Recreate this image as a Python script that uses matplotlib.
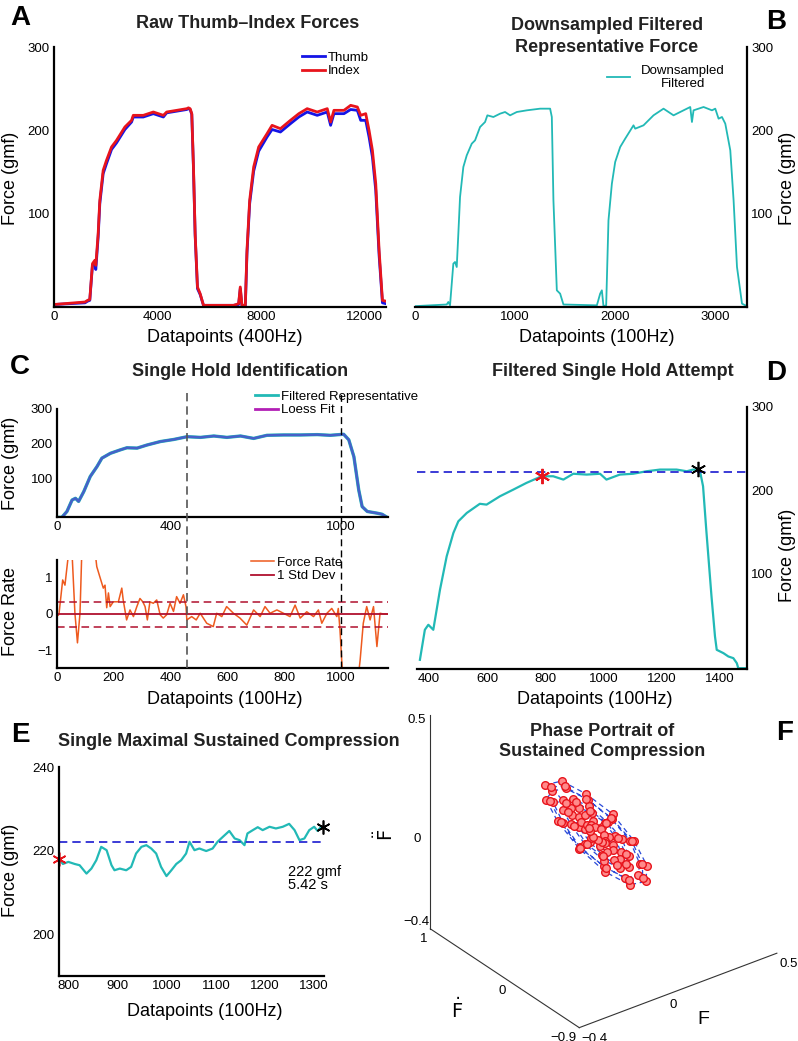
import matplotlib
matplotlib.use("Agg")
import matplotlib.pyplot as plt
from matplotlib.lines import Line2D

plt.rcParams['font.family'] = ['Liberation Sans', 'DejaVu Sans']
plt.rcParams['font.size'] = 9

W, H = 798, 1041

# ---- Panel A: raw thumb/index forces (400 Hz) ----
a_x = [0, 1200, 1300, 1385, 1489, 1579, 1618, 1709, 1773, 1903, 2032, 2227, 2421, 2744, 3003, 3068,
       3456, 3845, 4233, 4362, 4751, 5139, 5204, 5269, 5333, 5398, 5463, 5553, 5657, 5786, 6951, 7146,
       7210, 7275, 7405, 7469, 7573, 7728, 7922, 8246, 8440, 8764, 9152, 9476, 9799, 10188, 10576,
       10706, 10835, 11223, 11482, 11741, 11871, 12065, 12194, 12324, 12453, 12583, 12712, 12841]
a_index = [-9, -6, -4, -3, 40, 44, 38, 76, 116, 152, 164, 180, 188, 204, 212, 218,
           218, 222, 218, 222, 224, 226, 227, 226, 220, 156, 76, 12, 4, -10, -10, -8,
           12, -10, -10, 56, 116, 156, 180, 196, 206, 202, 212, 220, 226, 222, 226,
           210, 224, 224, 230, 228, 218, 220, 200, 176, 136, 56, -4, -5]
a_thumb = [-9, -7, -5, -4, 38, 40, 33, 72, 112, 148, 160, 177, 185, 201, 210, 216,
           216, 220, 216, 221, 223, 225, 226, 225, 219, 154, 74, 10, 3, -10, -10, -9,
           10, -11, -11, 52, 112, 151, 175, 192, 201, 198, 208, 216, 222, 218, 222,
           206, 220, 220, 225, 224, 212, 212, 192, 168, 128, 50, -7, -8]

# ---- Panel B: downsampled filtered force (100 Hz) ----
b_x = [0, 317, 333, 350, 383, 400, 417, 433, 450, 483, 517, 567, 600, 650, 700, 723, 783, 850, 900,
       950, 1017, 1117, 1250, 1350, 1367, 1383, 1417, 1450, 1483, 1817, 1850, 1867, 1883, 1910,
       1933, 1967, 2000, 2050, 2100, 2183, 2200, 2283, 2383, 2483, 2583, 2683, 2750, 2767, 2783,
       2883, 2967, 3000, 3033, 3067, 3100, 3150, 3183, 3217, 3267, 3300]
b_force = [-11, -9, -6, -10, 40, 42, 36, 76, 120, 156, 170, 184, 188, 204, 210, 218, 216, 220, 222,
           218, 222, 224, 226, 226, 216, 116, 8, 4, -9, -10, 4, 8, -11, -10,
           92, 136, 162, 180, 190, 206, 202, 206, 218, 226, 218, 224, 228, 210, 224,
           228, 224, 226, 214, 216, 208, 176, 116, 36, -8, -10]

# ---- Panel C: single hold identification ----
c_x = [0, 17, 35, 53, 65, 76, 94, 117, 141, 158, 188, 223, 246, 282, 317, 364, 411, 458, 505, 552,
       598, 646, 692, 739, 798, 857, 916, 962, 1009, 1027, 1045, 1062, 1074, 1092, 1127, 1144, 1162]
c_force = [-13, -13, 4, 37, 42, 33, 61, 105, 134, 158, 172, 182, 188, 187, 196, 206, 212, 220, 218, 222,
           218, 222, 215, 224, 225, 225, 226, 224, 227, 211, 162, 66, 18, 4, -1, -4, -13]
rate_x = [5, 7, 20, 28, 34, 40, 46, 52, 63, 72, 81, 87, 100, 115, 128, 140, 151, 163, 169, 175, 181, 187,
          198, 216, 228, 233, 245, 257, 269, 281, 292, 302, 310, 318, 327, 339, 351, 363, 374, 386,
          398, 410, 421, 433, 445, 454, 457, 474, 490, 504, 527, 550, 562, 580, 597, 621, 644, 668,
          692, 715, 732, 750, 774, 797, 820, 838, 856, 879, 903, 920, 932, 950, 967, 985, 990, 996,
          1002, 1010, 1030, 1050, 1067, 1078, 1090, 1102, 1114, 1126, 1137, 1149, 1166]
rate = [-0.03, 0.0, 0.92, 0.78, 1.19, 1.6, 2.4, 1.8, 0.03, -0.78, 0.03, 1.6, 2.8, 3.1, 2.1, 1.28, 1.0,
        0.7, 0.78, 0.17, 0.57, 0.2, 0.33, 0.33, 0.7, 0.38, -0.16, 0.11, -0.07, 0.2, 0.42, 0.33, 0.2,
        -0.16, 0.33, 0.29, 0.38, -0.02, -0.11, -0.02, 0.29, 0.07, 0.47, 0.29, 0.52, 0.2, -0.16, -0.07,
        -0.16, 0.02, -0.25, -0.34, 0.02, -0.07, 0.2, 0.02, -0.11, -0.3, 0.11, -0.07, 0.2, 0.02, 0.11,
        0.02, -0.07, 0.24, -0.11, 0.06, -0.07, 0.11, -0.25, 0.02, 0.15, -0.07, 0.15, -0.43, -1.24,
        -2.2, -2.8, -2.4, -1.24, -0.25, 0.2, -0.16, 0.2, -0.88, 0.02, 0.0, 0.0]
rate_std_hi = 0.33
rate_std_lo = -0.35
hold_bounds = [457, 1000]

# ---- Panel D: filtered single hold attempt ----
d_x = [369, 386, 398, 415, 438, 461, 484, 501, 530, 575, 598, 644, 690, 735, 787, 827, 862, 896, 942,
       988, 1010, 1056, 1102, 1148, 1194, 1251, 1286, 1308, 1331, 1342, 1353, 1371, 1383, 1389, 1412,
       1429, 1446, 1458, 1463, 1492]
d_force = [-3, 33, 39, 33, 81, 121, 149, 163, 173, 184, 183, 193, 201, 209, 217, 217, 213, 220, 219,
           220, 213, 219, 220, 223, 225, 225, 223, 225, 224, 205, 153, 73, 25, 9, 5, 1, -1, -7, -13, -13]
d_start = (787, 217)
d_end = (1326, 226)
sustained_level = 222

# ---- Panel E: single maximal sustained compression ----
e_x = [780, 788, 799, 812, 822, 836, 846, 856, 866, 877, 887, 893, 904, 917, 927, 937, 948, 958, 968,
       978, 988, 999, 1009, 1019, 1029, 1039, 1046, 1056, 1066, 1080, 1093, 1103, 1114, 1127, 1138,
       1148, 1158, 1164, 1175, 1185, 1195, 1209, 1222, 1236, 1249, 1260, 1270, 1280, 1290, 1300,
       1307, 1314]
e_force = [217.9, 216.8, 217.3, 216.8, 216.5, 214.5, 215.7, 217.7, 220.9, 220.1, 216.5, 215.3, 215.7,
           215.3, 216.1, 219.3, 220.9, 221.3, 220.5, 219.3, 216.1, 213.9, 215.3, 216.8, 217.7, 219.3,
           222.1, 220.1, 220.5, 219.9, 220.5, 222.1, 223.3, 224.7, 222.9, 222.5, 221.3, 224.1, 224.9,
           225.6, 224.9, 225.7, 225.3, 225.7, 226.4, 224.9, 222.5, 222.9, 224.9, 225.7, 224.7, 225.7]
e_start = (780, 217.9)
e_end = (1318, 225.6)

# ---- Panel F: phase portrait (normalised F, dF, ddF) ----
ph_F = [0.000, 0.045, 0.070, 0.080, 0.065, 0.035, -0.005, -0.045, -0.070, -0.075, -0.060, -0.030,
        0.005, 0.035, 0.060, 0.065, 0.055, 0.025, -0.010, -0.040, -0.060, -0.065, -0.050, -0.020,
        0.010, 0.030, 0.045, 0.050, 0.040, 0.015, -0.010, -0.030, -0.045, -0.050, -0.035, -0.015,
        0.005, 0.020, 0.035, 0.040, 0.030, 0.010, -0.010, -0.025, -0.035, -0.035, -0.025, -0.010,
        0.000, 0.015, 0.025, 0.025, 0.020, 0.005, -0.005, -0.020, -0.025, -0.025, -0.015, -0.005,
        0.010, 0.040, 0.060, 0.070, 0.060, 0.030, 0.000, -0.035, -0.060, -0.070, -0.055, -0.025,
        0.005, 0.025, 0.040, 0.045, 0.035, 0.015, -0.005, -0.025, -0.040, -0.045, -0.030, -0.010,
        0.000, 0.010, 0.015, 0.020, 0.015, 0.005, -0.005, -0.010, -0.015, -0.015, -0.010, 0.000]
ph_dF = [0.66, 0.57, 0.33, 0.02, -0.30, -0.55, -0.64, -0.55, -0.31, 0.01, 0.33, 0.56,
         0.58, 0.49, 0.28, -0.01, -0.27, -0.48, -0.56, -0.47, -0.26, 0.03, 0.29, 0.50,
         0.45, 0.38, 0.22, 0.00, -0.21, -0.37, -0.44, -0.38, -0.22, 0.01, 0.23, 0.39,
         0.34, 0.28, 0.16, 0.01, -0.15, -0.28, -0.33, -0.29, -0.17, -0.01, 0.16, 0.28,
         0.23, 0.19, 0.11, 0.00, -0.10, -0.19, -0.22, -0.19, -0.11, 0.00, 0.11, 0.19,
         0.61, 0.52, 0.30, 0.01, -0.28, -0.50, -0.59, -0.51, -0.29, 0.02, 0.30, 0.52,
         0.40, 0.33, 0.19, 0.00, -0.18, -0.33, -0.39, -0.33, -0.19, 0.00, 0.20, 0.34,
         0.12, 0.10, 0.06, 0.00, -0.05, -0.10, -0.12, -0.10, -0.06, 0.00, 0.06, 0.10]
ph_ddF = [0.14, 0.16, 0.15, 0.13, 0.09, 0.05, 0.02, 0.00, 0.01, 0.04, 0.08, 0.11,
          0.13, 0.15, 0.14, 0.12, 0.09, 0.05, 0.03, 0.01, 0.02, 0.04, 0.08, 0.11,
          0.12, 0.13, 0.13, 0.11, 0.09, 0.06, 0.04, 0.03, 0.03, 0.05, 0.08, 0.10,
          0.11, 0.12, 0.12, 0.11, 0.09, 0.06, 0.05, 0.04, 0.04, 0.06, 0.08, 0.10,
          0.10, 0.11, 0.10, 0.10, 0.08, 0.07, 0.06, 0.05, 0.06, 0.07, 0.08, 0.09,
          0.14, 0.15, 0.14, 0.12, 0.09, 0.05, 0.02, 0.01, 0.02, 0.04, 0.08, 0.11,
          0.12, 0.13, 0.12, 0.11, 0.09, 0.06, 0.04, 0.03, 0.04, 0.05, 0.08, 0.10,
          0.09, 0.09, 0.09, 0.09, 0.08, 0.07, 0.07, 0.07, 0.07, 0.07, 0.08, 0.08]

CYAN = '#22b9b6'
BLUE = '#1414e6'
RED = '#e8141c'
ORANGE = '#ee5a1e'
DARKRED = '#b0102e'
LOESS = '#4660c9'
PURPLE = '#b21fb5'

fig = plt.figure(figsize=(W / 100, H / 100), dpi=100)


def rect(l, t, r, b):
    return [l / W, 1 - b / H, (r - l) / W, (b - t) / H]


def style(ax, side='left'):
    for s in ['top', 'right', 'left', 'bottom']:
        ax.spines[s].set_visible(False)
    ax.spines['bottom'].set_visible(True)
    ax.spines[side].set_visible(True)
    for s in ax.spines.values():
        s.set_linewidth(1.6)
    ax.tick_params(length=0, labelsize=9.5, pad=3)
    if side == 'right':
        ax.yaxis.tick_right()
        ax.yaxis.set_label_position('right')


def ftext(x, y, s, **kw):
    fig.text(x / W, 1 - y / H, s, ha='center', va='center', **kw)


TFS = 13  # title size

# ---- A ----
axA = fig.add_axes(rect(54, 47, 386, 307))
axA.plot(a_x, a_thumb, color=BLUE, lw=2, label='Thumb')
axA.plot(a_x, a_index, color=RED, lw=2, label='Index')
axA.set_xlim(0, 12850)
axA.set_ylim(-12, 300)
axA.set_xticks([0, 4000, 8000, 12000])
axA.set_yticks([100, 200, 300])
style(axA, 'left')
axA.legend(loc='upper left', bbox_to_anchor=(295 / W, 1 - 45 / H), bbox_transform=fig.transFigure,
           frameon=False, handlelength=1.8, handletextpad=0.2, labelspacing=0.1, borderpad=0,
           fontsize=9.5)
ftext(225, 338, 'Datapoints (400Hz)', fontsize=13)
ftext(11, 178, 'Force (gmf)', fontsize=13, rotation=90)
ftext(248, 24, 'Raw Thumb\u2013Index Forces', fontsize=TFS, fontweight='bold', color='#222222')
ftext(20, 18, 'A', fontsize=20, fontweight='bold')

# ---- B ----
axB = fig.add_axes(rect(415, 47, 747, 307))
axB.plot(b_x, b_force, color=CYAN, lw=1.3, label='Downsampled\nFiltered')
axB.set_xlim(0, 3317)
axB.set_ylim(-12, 300)
axB.set_xticks([0, 1000, 2000, 3000])
axB.set_yticks([100, 200, 300])
style(axB, 'right')
legB = axB.legend(loc='upper left', bbox_to_anchor=(600 / W, 1 - 58 / H), bbox_transform=fig.transFigure,
                  frameon=False, handlelength=1.8, handletextpad=0.8, borderpad=0, fontsize=9.5)
for t in legB.get_texts():
    t.set_multialignment('center')
ftext(597, 338, 'Datapoints (100Hz)', fontsize=13)
ftext(788, 178, 'Force (gmf)', fontsize=13, rotation=90)
ftext(607, 25, 'Downsampled Filtered', fontsize=TFS, fontweight='bold', color='#222222')
ftext(607, 47, 'Representative Force', fontsize=TFS, fontweight='bold', color='#222222')
ftext(776, 22, 'B', fontsize=20, fontweight='bold')

# ---- C top ----
axC1 = fig.add_axes(rect(57, 409, 388, 517))
axC1.plot(c_x, c_force, color=CYAN, lw=2.4)
axC1.plot(c_x, c_force, color=LOESS, lw=1.8)
axC1.set_xlim(0, 1165)
axC1.set_ylim(-12, 300)
axC1.set_xticks([0, 400, 1000])
axC1.set_yticks([100, 200, 300])
style(axC1, 'left')
handles = [Line2D([], [], color=CYAN, lw=2), Line2D([], [], color=PURPLE, lw=2)]
axC1.legend(handles, ['Filtered Representative', 'Loess Fit'], loc='upper left',
            bbox_to_anchor=(248 / W, 1 - 384 / H), bbox_transform=fig.transFigure,
            frameon=False, handlelength=1.8, handletextpad=0.2, labelspacing=0.1, borderpad=0,
            fontsize=9.5)
ftext(11, 463, 'Force (gmf)', fontsize=13, rotation=90)
ftext(240, 372, 'Single Hold Identification', fontsize=TFS, fontweight='bold', color='#222222')
ftext(20, 367, 'C', fontsize=20, fontweight='bold')

# ---- C bottom ----
axC2 = fig.add_axes(rect(57, 560, 388, 668))
axC2.plot(rate_x, rate, color=ORANGE, lw=1.1, label='Force Rate')
axC2.axhline(0, color=DARKRED, lw=1.3, label='1 Std Dev')
axC2.axhline(rate_std_hi, color=DARKRED, lw=1.1, ls=(0, (5, 3)))
axC2.axhline(rate_std_lo, color=DARKRED, lw=1.1, ls=(0, (5, 3)))
axC2.set_xlim(0, 1165)
axC2.set_ylim(-1.46, 1.46)
axC2.set_xticks([0, 200, 400, 600, 800, 1000])
axC2.set_yticks([-1, 0, 1])
axC2.set_yticklabels(['\u22121', '0', '1'])
style(axC2, 'left')
axC2.legend(loc='upper left', bbox_to_anchor=(244 / W, 1 - 550 / H), bbox_transform=fig.transFigure,
            frameon=False, handlelength=1.8, handletextpad=0.2, labelspacing=0.1, borderpad=0,
            fontsize=9.5)
ftext(225, 700, 'Datapoints (100Hz)', fontsize=13)
ftext(11, 612, 'Force Rate', fontsize=13, rotation=90)

# vertical hold boundaries spanning both C axes
axCo = fig.add_axes(rect(57, 392, 388, 668))
axCo.set_xlim(0, 1165)
axCo.set_ylim(0, 1)
axCo.axis('off')
axCo.axvline(hold_bounds[0], color='#555555', lw=1.2, ls=(0, (5, 3)))
axCo.axvline(hold_bounds[1], color='black', lw=1.0, ls=(0, (5, 3)))

# ---- D ----
axD = fig.add_axes(rect(417, 407, 747, 669))
axD.plot(d_x, d_force, color=CYAN, lw=1.6)
axD.axhline(sustained_level, color='#1a1ad0', lw=1.2, ls=(0, (5, 3)))
axD.plot(*d_end, marker=(6, 2, 0), color='black', ms=11, mew=1.2)
axD.plot(*d_start, marker=(6, 2, 0), color=RED, ms=11, mew=1.4)
axD.set_xlim(359, 1493)
axD.set_ylim(-14, 300)
axD.set_xticks([400, 600, 800, 1000, 1200, 1400])
axD.set_yticks([100, 200, 300])
style(axD, 'right')
ftext(595, 700, 'Datapoints (100Hz)', fontsize=13)
ftext(788, 555, 'Force (gmf)', fontsize=13, rotation=90)
ftext(613, 372, 'Filtered Single Hold Attempt', fontsize=TFS, fontweight='bold', color='#222222')
ftext(776, 373, 'D', fontsize=20, fontweight='bold')

# ---- E ----
axE = fig.add_axes(rect(59, 767, 324, 976))
axE.plot(e_x, e_force, color=CYAN, lw=1.6)
axE.plot([e_start[0], e_end[0]], [sustained_level, sustained_level], color='#1a1ad0', lw=1.2,
         ls=(0, (5, 3)))
axE.plot(*e_start, marker=(6, 2, 0), color=RED, ms=10, mew=1.2, clip_on=False)
axE.plot(*e_end, marker=(6, 2, 0), color='black', ms=10, mew=1.2, clip_on=False)
axE.set_xlim(780, 1320)
axE.set_ylim(190, 240)
axE.set_xticks([800, 900, 1000, 1100, 1200, 1300])
axE.set_yticks([200, 220, 240])
style(axE, 'left')
axE.text(1247, 216.5, '222 gmf\n5.42 s', fontsize=10.5, va='top', ha='left', linespacing=0.9)
ftext(205, 1012, 'Datapoints (100Hz)', fontsize=13)
ftext(11, 870, 'Force (gmf)', fontsize=13, rotation=90)
fig.text(58 / W, 1 - 742 / H, 'Single Maximal Sustained Compression', fontsize=TFS,
         fontweight='bold', color='#222222', ha='left', va='center')
ftext(20, 735, 'E', fontsize=20, fontweight='bold')

# ---- F ----
axF = fig.add_axes(rect(400, 668, 798, 1009), projection='3d', proj_type='ortho')
axF.patch.set_alpha(0)
axF.plot(ph_dF, ph_F, ph_ddF, color='#2a4ad8', lw=0.9, ls=(0, (4, 3)))
axF.plot(ph_dF, ph_F, ph_ddF, ls='none', marker='o', ms=5.5, mfc='#ff8a8a', mec=RED, mew=1)
axF.set_xlim(1, -0.9)
axF.set_ylim(-0.4, 0.5)
axF.set_zlim(-0.4, 0.5)
axF.set_xticks([1, 0, -0.9])
axF.set_xticklabels(['1', '0', '\u22120.9'])
axF.set_yticks([-0.4, 0, 0.5])
axF.set_yticklabels(['\u22120.4', '0', '0.5'])
axF.set_zticks([-0.4, 0, 0.5])
axF.set_zticklabels(['\u22120.4', '0', '0.5'])
axF.view_init(elev=30, azim=-37)
axF.set_box_aspect((1, 1, 1), zoom=1.22)
axF.zaxis.set_ticks_position('lower')
axF.grid(False)
for axis in (axF.xaxis, axF.yaxis, axF.zaxis):
    axis.set_pane_color((1, 1, 1, 0))
    axis.line.set_color('#333333')
    axis.line.set_linewidth(0.8)
    axis._axinfo['tick']['inward_factor'] = 0
    axis._axinfo['tick']['outward_factor'] = 0
axF.tick_params(length=0, labelsize=9.5)
axF.tick_params(axis='x', pad=-6)
axF.tick_params(axis='y', pad=-6)
axF.tick_params(axis='z', pad=-3)
for lab in axF.get_xticklabels():
    lab.set_ha('right')
for lab in axF.get_yticklabels():
    lab.set_ha('left')
zlabs = axF.get_zticklabels()
zlabs[0].set_va('bottom')
zlabs[-1].set_va('top')
ftext(457, 1010, r'$\dot{\mathrm{F}}$', fontsize=14)
ftext(703, 1020, 'F', fontsize=14)
ftext(385, 835, r'$\ddot{\mathrm{F}}$', fontsize=14, rotation=90)
ftext(602, 731, 'Phase Portrait of', fontsize=TFS, fontweight='bold', color='#222222')
ftext(602, 752, 'Sustained Compression', fontsize=TFS, fontweight='bold', color='#222222')
ftext(785, 733, 'F', fontsize=20, fontweight='bold')

fig.savefig('out.png', dpi=100)
